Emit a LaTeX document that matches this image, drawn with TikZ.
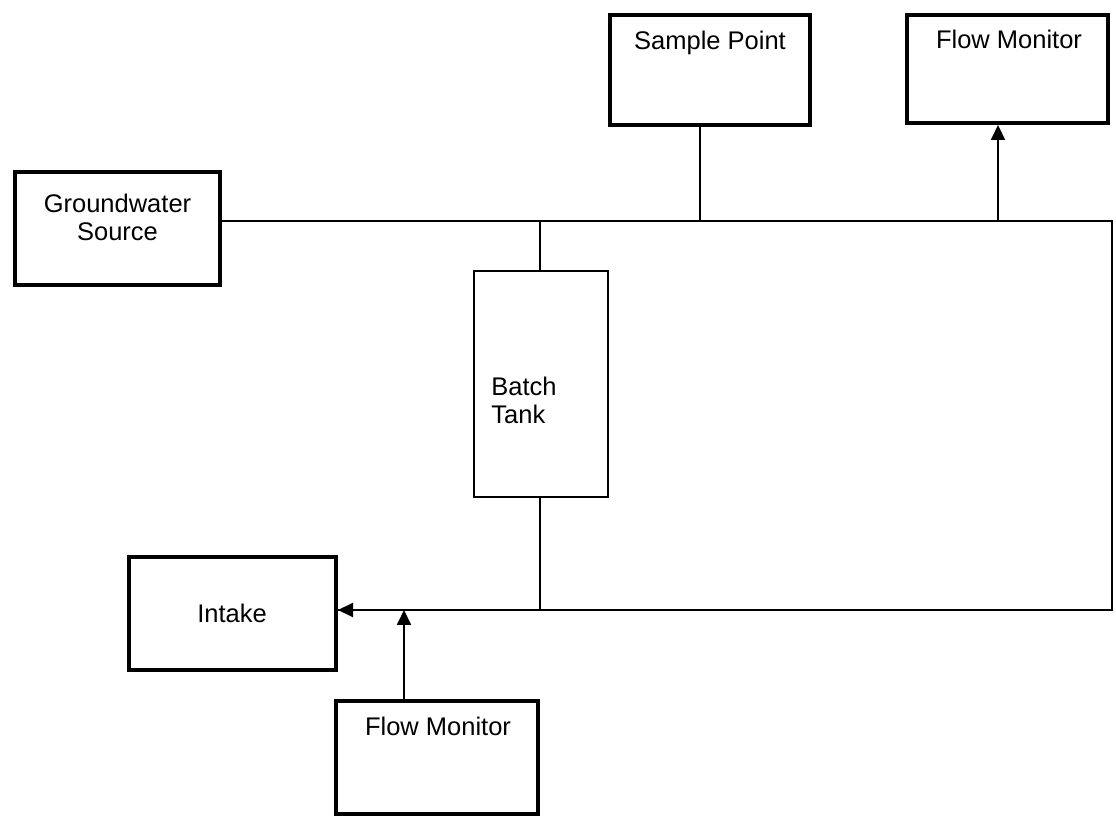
\documentclass[tikz,border=0pt]{standalone}
\usepackage{fontspec}
\setmainfont{Liberation Sans}
\usetikzlibrary{arrows.meta}
\begin{document}
\begin{tikzpicture}[x=1pt,y=1pt,
  thickbox/.style={draw=black,line width=4pt,fill=white,rectangle,inner sep=0pt},
  thinbox/.style={draw=black,line width=1.9pt,fill=white,rectangle,inner sep=0pt},
  pipe/.style={draw=black,line width=1.9pt},
  flowarrow/.style={pipe,-{Triangle[length=15pt,width=14pt]}},
  lbl/.style={inner sep=0pt,font=\fontsize{25.5}{28}\selectfont,align=center}]
\useasboundingbox (0,0) rectangle (1116,825);
\fill[white] (0,0) rectangle (1116,825);
% boxes
\node[thickbox,minimum width=205pt,minimum height=113pt] (GW) at (117.5,596.5) {};
\node[thickbox,minimum width=200pt,minimum height=110pt] (SP) at (710,755) {};
\node[thickbox,minimum width=201pt,minimum height=108pt] (FMT) at (1007.5,756) {};
\node[thinbox,minimum width=134pt,minimum height=226pt] (BT) at (541,441) {};
\node[thickbox,minimum width=207pt,minimum height=113pt] (IN) at (232.5,211.5) {};
\node[thickbox,minimum width=202pt,minimum height=113pt] (FMB) at (437,67.5) {};
% labels
\node[lbl,anchor=center] (GWt) at (117.5,608) {Groundwater\\Source};
\node[lbl,anchor=center,align=left] (BTt) at (524,425) {Batch\\Tank};
\node[lbl,anchor=base] (SPt) at (710,775) {Sample Point};
\node[lbl,anchor=base] (FMTt) at (1009,776.5) {Flow Monitor};
\node[lbl,anchor=base] (INt) at (232,202) {Intake};
\node[lbl,anchor=base] (FMBt) at (438,89.5) {Flow Monitor};
% junction coordinates
\coordinate (jr) at (1112,604);
\coordinate (jb) at (1112,215);
\coordinate (spj) at (700,604);
\coordinate (fmj) at (998,604);
\coordinate (btj) at (540,604);
\coordinate (btb) at (540,215);
\coordinate (fbj) at (404,215);
% connectors
\draw[pipe] (GW.east |- jr) -- (jr) -- (jb) -- (IN.east |- jb);
\draw[flowarrow] (jb) -- (IN.east |- jb);
\draw[pipe] (spj |- SP.south) -- (spj);
\draw[flowarrow] (fmj) -- (fmj |- FMT.south);
\draw[pipe] (btj) -- (btj |- BT.north);
\draw[pipe] (btj |- BT.south) -- (btb);
\draw[flowarrow] (fbj |- FMB.north) -- (fbj);
\end{tikzpicture}
\end{document}
